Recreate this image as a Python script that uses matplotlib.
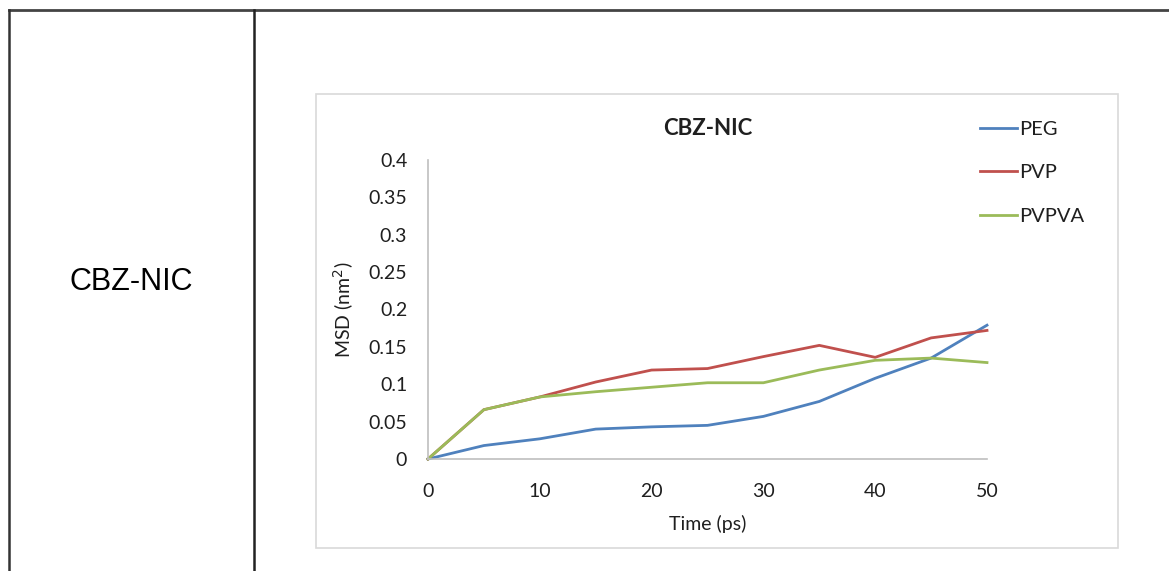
import matplotlib
matplotlib.use("Agg")
import matplotlib.pyplot as plt
from matplotlib.lines import Line2D
from matplotlib.patches import Rectangle

# Mean squared displacement over simulation time
time_ps = [0, 5, 10, 15, 20, 25, 30, 35, 40, 45, 50]
peg = [0.0, 0.018, 0.027, 0.040, 0.043, 0.045, 0.057, 0.077, 0.108, 0.135, 0.179]
pvp = [0.0, 0.066, 0.083, 0.103, 0.119, 0.121, 0.137, 0.152, 0.136, 0.162, 0.172]
pvpva = [0.0, 0.066, 0.083, 0.090, 0.096, 0.102, 0.102, 0.119, 0.132, 0.135, 0.129]

series_names = ["PEG", "PVP", "PVPVA"]
series_colors = ["#4F81BD", "#C0504D", "#9BBB59"]
x_ticks = [0, 10, 20, 30, 40, 50]
y_ticks = [0, 0.05, 0.1, 0.15, 0.2, 0.25, 0.3, 0.35, 0.4]
y_tick_labels = ["0", "0.05", "0.1", "0.15", "0.2", "0.25", "0.3", "0.35", "0.4"]
row_label = "CBZ-NIC"
chart_title = "CBZ-NIC"

W, H = 1169, 571
fig = plt.figure(figsize=(W / 100, H / 100), dpi=100)
fig.patch.set_facecolor("white")

# Overlay in pixel units for the table frame and chart box
frame = fig.add_axes([0, 0, 1, 1])
frame.set_xlim(0, W)
frame.set_ylim(H, 0)
frame.axis("off")
frame.add_line(Line2D([9, W], [10, 10], color="#444444", lw=2.0))
frame.add_line(Line2D([9, 9], [10, H], color="#333333", lw=1.8))
frame.add_line(Line2D([254, 254], [10, H], color="#222222", lw=1.8))
frame.add_patch(Rectangle((316, 94), 1118 - 316, 548 - 94, fill=False,
                          edgecolor="#D9D9D9", lw=1.2))
frame.text(131.5, 282, row_label, ha="center", va="center",
           fontsize=22, family="Liberation Sans", color="black")

chart_font = "Lato"
text_color = "#1F1F1F"
ax = fig.add_axes([428 / W, 1 - 459 / H, 559 / W, 299 / H])
ax.patch.set_alpha(0)
for name, vals, col in zip(series_names, [peg, pvp, pvpva], series_colors):
    ax.plot(time_ps, vals, color=col, lw=2.0, label=name, clip_on=False)

ax.set_xlim(0, 50)
ax.set_ylim(0, 0.4)
ax.set_xticks(x_ticks)
ax.set_xticklabels([str(t) for t in x_ticks], fontsize=14, family=chart_font, color=text_color)
ax.set_yticks(y_ticks)
ax.set_yticklabels(y_tick_labels, fontsize=14, family=chart_font, color=text_color)
ax.tick_params(axis="both", length=0)
ax.tick_params(axis="y", pad=15)
ax.tick_params(axis="x", pad=17)
for side in ["top", "right"]:
    ax.spines[side].set_visible(False)
for side in ["left", "bottom"]:
    ax.spines[side].set_color("#BFBFBF")
    ax.spines[side].set_linewidth(1.2)

ax.set_xlabel("Time (ps)", fontsize=14, family=chart_font, color=text_color, labelpad=11)
ax.set_ylabel("MSD (nm$^2$)", fontsize=14, family=chart_font, color=text_color, labelpad=9)
ax.set_title(chart_title, fontsize=16, family=chart_font, fontweight="bold",
             color=text_color, pad=18)

leg = fig.legend(loc="upper left", bbox_to_anchor=(980 / W, 1 - 121 / H),
                 frameon=False, prop={"family": chart_font, "size": 14.5},
                 handlelength=1.85, handletextpad=0.1, labelspacing=1.3,
                 borderaxespad=0, borderpad=0)
for t in leg.get_texts():
    t.set_color(text_color)

fig.savefig("out.png", dpi=100, facecolor="white")
